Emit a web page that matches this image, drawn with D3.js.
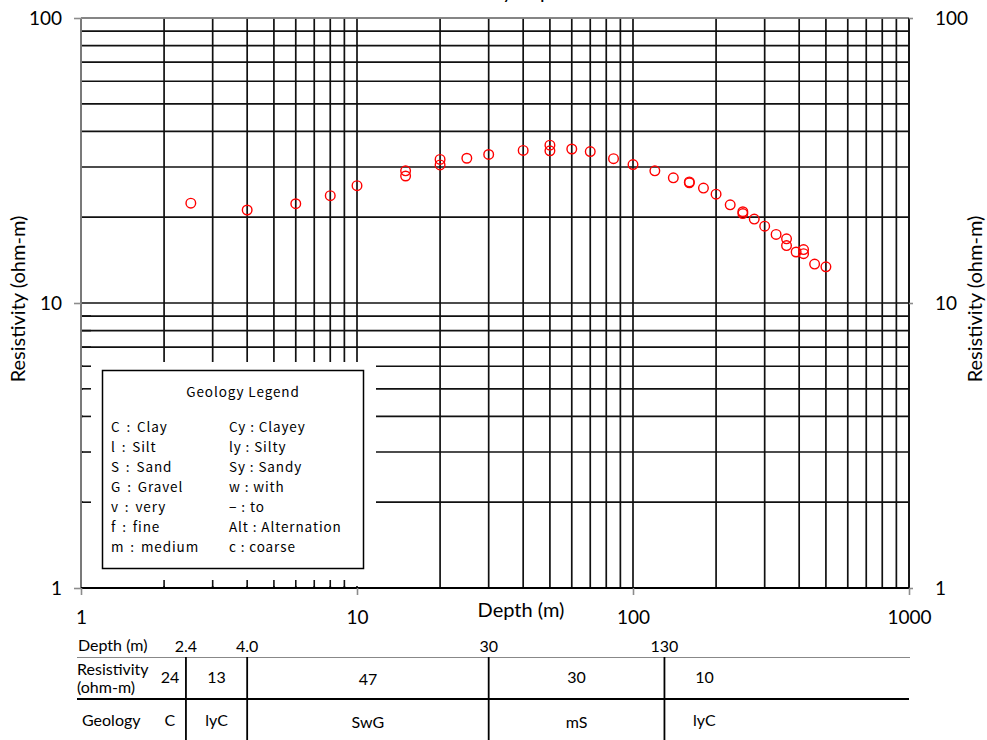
<!DOCTYPE html>
<html><head><meta charset="utf-8">
<script src="https://cdn.jsdelivr.net/npm/d3@7"></script>
<style>
body{margin:0;background:#fff}
svg{display:block}
text{font-family:Lato,"Open Sans",sans-serif;fill:#000}
</style></head>
<body><svg id="c" width="987" height="740"></svg>
<script>
const depth = [2.5,4,6,8,10,15,15,20,20,25,30,40,50,50,60,70,85,100,120,140,160,160,180,200,225,250,250,275,300,330,360,360,390,415,415,455,500];
const resistivity = [22.4,21.2,22.3,23.8,25.8,29.1,27.9,31.9,30.5,32.2,33.2,34.3,35.8,34.2,34.7,34.0,32.1,30.6,29.1,27.5,26.6,26.4,25.3,24.1,22.1,20.9,20.6,19.7,18.6,17.4,16.8,15.9,15.1,15.4,14.9,13.7,13.4];
const xTickValues = [1,10,100,1000];
const yTickValues = [1,10,100];
const layerBounds = [2.4,4.0,30,130];
const layerBoundLabels = ["2.4","4.0","30","130"];
const layerRes = ["24","13","47","30","10"];
const layerGeo = ["C","lyC","SwG","mS","lyC"];
const legendLeft = ["C : Clay","l : Silt","S : Sand","G : Gravel","v : very","f : fine","m : medium"];
const legendRight = ["Cy : Clayey","ly : Silty","Sy : Sandy","w : with","\u2212 : to","Alt : Alternation","c : coarse"];

const svg = d3.select("#c");
const L=81,R=909,T=18,B=588;
const x = d3.scaleLog().domain([1,1000]).range([L,R]);
const y = d3.scaleLog().domain([1,100]).range([B,T]);

// title (mostly cut off above the view, as in the reference)
svg.append("text").attr("x",368).attr("y",-1).attr("text-anchor","start")
  .style("font-size","20px").text("Electrical Survey of profile");

// grid
const g = svg.append("g");
g.selectAll(".vg").data(x.ticks()).join("line")
  .attr("x1",d=>x(d)).attr("x2",d=>x(d)).attr("y1",T).attr("y2",B)
  .attr("stroke","#111").attr("stroke-width",1.7);
g.selectAll(".hg").data(y.ticks()).join("line")
  .attr("y1",d=>y(d)).attr("y2",d=>y(d)).attr("x1",L).attr("x2",R)
  .attr("stroke","#111").attr("stroke-width",1.7);

// white area behind legend
svg.append("rect").attr("x",83).attr("y",362).attr("width",293).attr("height",224).attr("fill","#fff");

// inside minor ticks
svg.append("g").selectAll("line").data(x.ticks().filter(d=>d<10)).join("line")
  .attr("x1",d=>x(d)).attr("x2",d=>x(d)).attr("y1",B-8).attr("y2",B).attr("stroke","#111").attr("stroke-width",1.6);
svg.append("g").selectAll("line").data(y.ticks().filter(d=>d<10)).join("line")
  .attr("x1",L).attr("x2",L+10).attr("y1",d=>y(d)).attr("y2",d=>y(d)).attr("stroke","#111").attr("stroke-width",1.6);

// frame
svg.append("line").attr("x1",L).attr("x2",L).attr("y1",T).attr("y2",B).attr("stroke","#8c8c8c").attr("stroke-width",1.6);
svg.append("line").attr("x1",L).attr("x2",R).attr("y1",T).attr("y2",T).attr("stroke","#999").attr("stroke-width",1.6);
svg.append("line").attr("x1",R).attr("x2",R).attr("y1",T).attr("y2",B).attr("stroke","#111").attr("stroke-width",1.6);
svg.append("line").attr("x1",L).attr("x2",R).attr("y1",B).attr("y2",B).attr("stroke","#000").attr("stroke-width",2.2);

// axes
const yl = svg.append("g").attr("transform",`translate(${L},0)`)
  .call(d3.axisLeft(y).tickValues(yTickValues).tickFormat(d3.format("d")).tickSize(7).tickPadding(12));
const yr = svg.append("g").attr("transform",`translate(${R},0)`)
  .call(d3.axisRight(y).tickValues(yTickValues).tickFormat(d3.format("d")).tickSize(4).tickPadding(22));
const xb = svg.append("g").attr("transform",`translate(0,${B})`)
  .call(d3.axisBottom(x).tickValues(xTickValues).tickFormat(d3.format("d")).tickSize(7).tickPadding(12));
[yl,yr,xb].forEach(a=>{
  a.select(".domain").remove();
  a.selectAll(".tick line").attr("stroke","#8c8c8c").attr("stroke-width",1.6);
  a.selectAll(".tick text").style("font-size","19px").style("font-family","Lato,'Open Sans',sans-serif");
});
xb.selectAll(".tick text").attr("dy","0.9em");

// axis titles
svg.append("text").attr("x",521).attr("y",617).attr("text-anchor","middle").style("font-size","20px").text("Depth (m)");
svg.append("text").attr("transform","translate(25,299) rotate(-90)").attr("text-anchor","middle").style("font-size","20px").text("Resistivity (ohm-m)");
svg.append("text").attr("transform","translate(982,299) rotate(-90)").attr("text-anchor","middle").style("font-size","20px").text("Resistivity (ohm-m)");

// data points
svg.append("g").selectAll("circle").data(depth.map((d,i)=>[d,resistivity[i]])).join("circle")
  .attr("cx",d=>x(d[0])).attr("cy",d=>y(d[1])).attr("r",4.8)
  .attr("fill","none").attr("stroke","#ff0000").attr("stroke-width",1.4);

// legend box
svg.append("rect").attr("x",102.5).attr("y",370.5).attr("width",261).attr("height",198)
  .attr("fill","#fff").attr("stroke","#000").attr("stroke-width",1.5);
const lf = "'Noto Sans CJK JP','Noto Sans',sans-serif";
const ls = "0.9px";
svg.append("text").attr("x",243).attr("y",397).attr("text-anchor","middle")
  .style("font-family",lf).style("font-size","13.5px").style("letter-spacing",ls).text("Geology Legend");
svg.append("g").selectAll("text").data(legendLeft).join("text")
  .attr("x",111).attr("y",(d,i)=>432+i*20).style("font-family",lf).style("font-size","13.5px").style("letter-spacing",ls).style("word-spacing","2px").text(d=>d);
svg.append("g").selectAll("text").data(legendRight).join("text")
  .attr("x",229).attr("y",(d,i)=>432+i*20).style("font-family",lf).style("font-size","13.5px").style("letter-spacing",ls).text(d=>d);

// layer table
const tf = "16px";
svg.append("text").attr("x",78).attr("y",651).style("font-size",tf).text("Depth (m)");
svg.append("g").selectAll("text").data(layerBounds).join("text")
  .attr("x",d=>x(d)).attr("y",652).attr("text-anchor","middle").style("font-size",tf).text((d,i)=>layerBoundLabels[i]);
svg.append("line").attr("x1",77).attr("x2",R+1).attr("y1",657.5).attr("y2",657.5).attr("stroke","#888").attr("stroke-width",1.2);
svg.append("line").attr("x1",77).attr("x2",R).attr("y1",699).attr("y2",699).attr("stroke","#000").attr("stroke-width",2);
svg.append("g").selectAll("line").data(layerBounds).join("line")
  .attr("x1",d=>x(d)).attr("x2",d=>x(d)).attr("y1",657).attr("y2",740)
  .attr("stroke","#000").attr("stroke-width",1.8);
svg.append("text").attr("x",77).attr("y",675).style("font-size",tf).text("Resistivity");
svg.append("text").attr("x",77).attr("y",693).style("font-size",tf).text("(ohm-m)");
svg.append("text").attr("x",82).attr("y",726).style("font-size",tf).text("Geology");
const cx = i => i===0 ? x(layerBounds[0])-16 : i===layerBounds.length ? x(layerBounds[i-1])+40 : (x(layerBounds[i-1])+x(layerBounds[i]))/2;
svg.append("g").selectAll("text").data(layerRes).join("text")
  .attr("x",(d,i)=>cx(i)).attr("y",(d,i)=>i===2?685:683).attr("text-anchor","middle").style("font-size",tf).text(d=>d);
svg.append("g").selectAll("text").data(layerGeo).join("text")
  .attr("x",(d,i)=>cx(i)).attr("y",(d,i)=>i>=2&&i<=3?728:726).attr("text-anchor","middle").style("font-size",tf).text(d=>d);
</script></body></html>
